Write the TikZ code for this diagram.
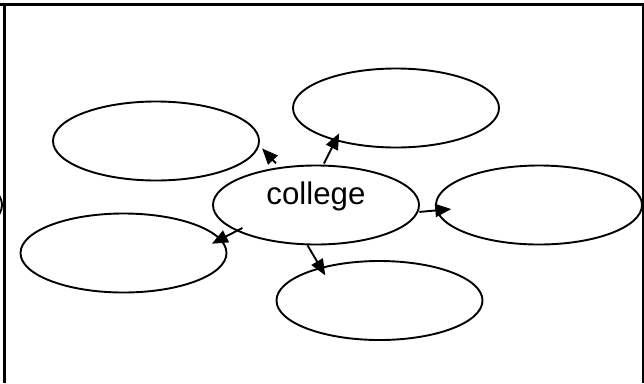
\documentclass[tikz,border=0pt]{standalone}
\usepackage{fontspec}
\setmainfont{Liberation Sans}
\usepackage{tikz}
\usetikzlibrary{arrows.meta,shapes.geometric}
\tikzset{
  bubble/.style={ellipse, draw, line width=1.9pt, minimum width=206pt, minimum height=79pt, inner sep=0pt, outer sep=0pt},
  link/.style={-{Triangle[length=16pt,width=13pt]}, line width=1.9pt}
}
\begin{document}
\begin{tikzpicture}[x=1pt,y=-1pt]
\useasboundingbox (0,0) rectangle (644,383);
% cell lines
\draw[line width=2.2pt] (0,4.5) -- (644,4.5);
\draw[line width=2.2pt] (4.5,4.5) -- (4.5,383);
\draw[line width=2pt] (643,4.5) -- (643,383);

\node[bubble, text height=22pt, text depth=24pt, font=\fontsize{31.25}{36}\selectfont] (college) at (316,205) {college};
\node[bubble] (topleft) at (156,141) {};
\node[bubble] (topright) at (396,108) {};
\node[bubble] (right) at (539,205) {};
\node[bubble] (bottomleft) at (123.5,253) {};
\node[bubble] (bottom) at (379.5,300.5) {};
\node[bubble] (offleft) at (-101,205) {};

\draw[link, shorten <=6.3pt, shorten >=5.2pt] (college.134) -- (topleft.-2.5);
\draw[link, shorten <=2.3pt, shorten >=-7.5pt] (college.80) -- (topright.208.4);
\draw[link, shorten <=2pt, shorten >=-14.4pt] (college.-4.5) -- (right.183.9);
\draw[link, shorten <=-5.6pt, shorten >=-9.4pt] (college.198.7) -- (bottomleft.8.1);
\draw[link, shorten <=1.3pt, shorten >=-8.5pt] (college.257.8) -- (bottom.151.4);
\end{tikzpicture}
\end{document}
